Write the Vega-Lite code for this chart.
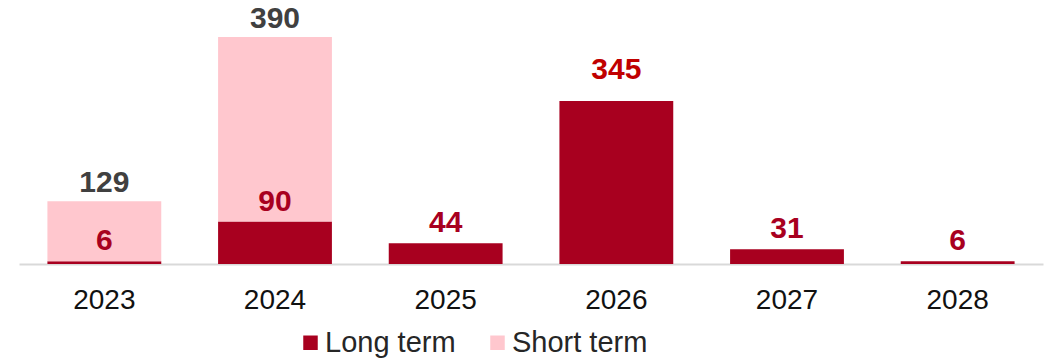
{
  "$schema": "https://vega.github.io/schema/vega-lite/v6.json",
  "autosize": "none",
  "width": 1024,
  "height": 254,
  "padding": {"left": 19, "top": 10, "right": 8, "bottom": 97},
  "background": "white",
  "config": {
    "view": {"stroke": null},
    "font": "Liberation Sans"
  },
  "data": {
    "values": [
      {"year": "2023", "type": "Long term", "value": 6, "label": "6"},
      {"year": "2023", "type": "Short term", "value": 127, "label": "129"},
      {"year": "2024", "type": "Long term", "value": 90, "label": "90"},
      {"year": "2024", "type": "Short term", "value": 391, "label": "390"},
      {"year": "2025", "type": "Long term", "value": 44, "label": "44"},
      {"year": "2026", "type": "Long term", "value": 345, "label": "345"},
      {"year": "2027", "type": "Long term", "value": 31, "label": "31"},
      {"year": "2028", "type": "Long term", "value": 6, "label": "6"}
    ]
  },
  "transform": [
    {"stack": "value", "groupby": ["year"], "sort": [{"field": "type", "order": "ascending"}], "as": ["v0", "v1"]}
  ],
  "encoding": {
    "x": {
      "field": "year", "type": "nominal",
      "scale": {"paddingInner": 0.333, "paddingOuter": 0.1665},
      "axis": {
        "title": null, "labelAngle": 0, "ticks": false,
        "domainColor": "#D9D9D9", "domainWidth": 2,
        "labelFontSize": 28, "labelColor": "#111111", "labelPadding": 22,
        "labelFont": "Liberation Sans"
      }
    }
  },
  "layer": [
    {
      "mark": {"type": "bar"},
      "encoding": {
        "y": {"field": "v1", "type": "quantitative", "scale": {"domain": [0, 538], "nice": false, "zero": true}, "axis": null},
        "y2": {"field": "v0"},
        "color": {
          "field": "type", "type": "nominal",
          "scale": {"domain": ["Long term", "Short term"], "range": ["#A8001F", "#FFC7CE"]},
          "legend": {
            "title": null, "orient": "none", "direction": "horizontal",
            "legendX": 277, "legendY": 318, "padding": 0,
            "symbolType": "square", "symbolSize": 210, "symbolStrokeWidth": 0,
            "labelFontSize": 29, "labelColor": "#262626", "labelOffset": 0,
            "columnPadding": 27, "labelFont": "Liberation Sans"
          }
        }
      }
    },
    {
      "transform": [{"filter": "datum.type == 'Long term' && datum.year != '2026'"}],
      "mark": {"type": "text", "baseline": "alphabetic", "dy": -11, "fontSize": 30, "fontWeight": "bold", "font": "Liberation Sans", "color": "#A8001F"},
      "encoding": {
        "y": {"field": "v1", "type": "quantitative"},
        "text": {"field": "label"}
      }
    },
    {
      "transform": [{"filter": "datum.type == 'Long term' && datum.year == '2026'"}],
      "mark": {"type": "text", "baseline": "alphabetic", "dy": -22, "fontSize": 30, "fontWeight": "bold", "font": "Liberation Sans", "color": "#C00000"},
      "encoding": {
        "y": {"field": "v1", "type": "quantitative"},
        "text": {"field": "label"}
      }
    },
    {
      "transform": [{"filter": "datum.type == 'Short term'"}],
      "mark": {"type": "text", "baseline": "alphabetic", "dy": -9, "fontSize": 30, "fontWeight": "bold", "font": "Liberation Sans", "color": "#404040"},
      "encoding": {
        "y": {"field": "v1", "type": "quantitative"},
        "text": {"field": "label"}
      }
    }
  ]
}
